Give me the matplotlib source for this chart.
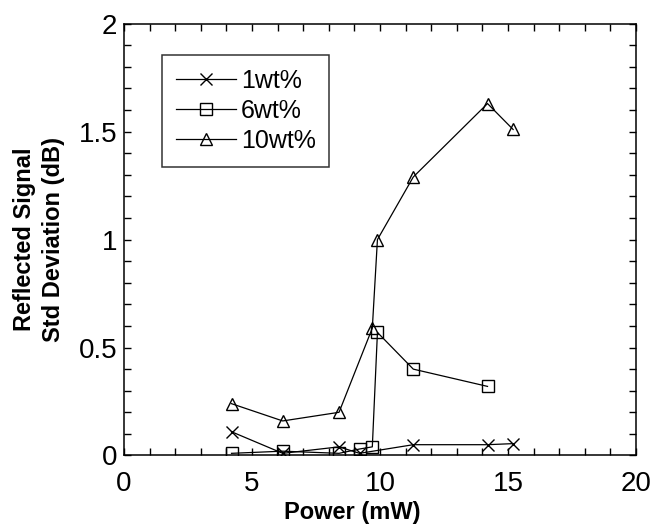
import matplotlib
matplotlib.use('Agg')
import matplotlib.pyplot as plt
from matplotlib.ticker import MultipleLocator, FuncFormatter

# data
power_1 = [4.2, 6.2, 8.4, 9.2, 11.3, 14.2, 15.2]
std_1 = [0.11, 0.01, 0.04, 0.01, 0.05, 0.05, 0.055]

power_6 = [4.2, 6.2, 8.4, 9.2, 9.7, 9.9, 11.3, 14.2]
std_6 = [0.01, 0.02, 0.01, 0.03, 0.04, 0.57, 0.40, 0.32]

power_10 = [4.2, 6.2, 8.4, 9.7, 9.9, 11.3, 14.2, 15.2]
std_10 = [0.24, 0.16, 0.20, 0.59, 1.00, 1.29, 1.63, 1.51]

labels = ['1wt%', '6wt%', '10wt%']

plt.rcParams['font.family'] = ['Liberation Sans', 'DejaVu Sans']

fig = plt.figure(figsize=(6.55, 5.25), dpi=100)
ax = fig.add_axes([0.1893, 0.1324, 0.7817, 0.8225])

style = dict(color='black', linewidth=0.9, markersize=9, markeredgewidth=1.0,
             markerfacecolor='none')
ax.plot(power_1, std_1, marker='x', label=labels[0], **style)
ax.plot(power_6, std_6, marker='s', label=labels[1], **style)
ax.plot(power_10, std_10, marker='^', label=labels[2], **style)

ax.set_xlim(0, 20)
ax.set_ylim(0, 2)
ax.xaxis.set_major_locator(MultipleLocator(5))
ax.xaxis.set_minor_locator(MultipleLocator(1))
ax.yaxis.set_major_locator(MultipleLocator(0.5))
ax.yaxis.set_minor_locator(MultipleLocator(0.1))
ax.yaxis.set_major_formatter(FuncFormatter(lambda v, p: '%g' % v))

ax.tick_params(which='both', direction='in', top=True, right=True,
               width=1, labelsize=20)
ax.tick_params(which='both', length=5)
ax.tick_params(axis='x', which='major', pad=11)
ax.tick_params(axis='y', which='major', pad=5)
for sp in ax.spines.values():
    sp.set_linewidth(1.1)

ax.set_xlabel('Power (mW)', fontsize=17, fontweight='bold')
ax.xaxis.set_label_coords(0.445, -0.106)
ax.set_ylabel('Reflected Signal\nStd Deviation (dB)', fontsize=17,
              fontweight='bold', linespacing=1.35)
ax.yaxis.set_label_coords(-0.115, 0.5)

leg = ax.legend(loc='upper left', bbox_to_anchor=(0.074, 0.928), fontsize=18,
                frameon=True, fancybox=False, handlelength=2.4,
                handletextpad=0.2, labelspacing=0.25, borderpad=0.55,
                borderaxespad=0)
leg.get_frame().set_edgecolor('black')
leg.get_frame().set_linewidth(1.1)

fig.savefig('out.png', dpi=100)
